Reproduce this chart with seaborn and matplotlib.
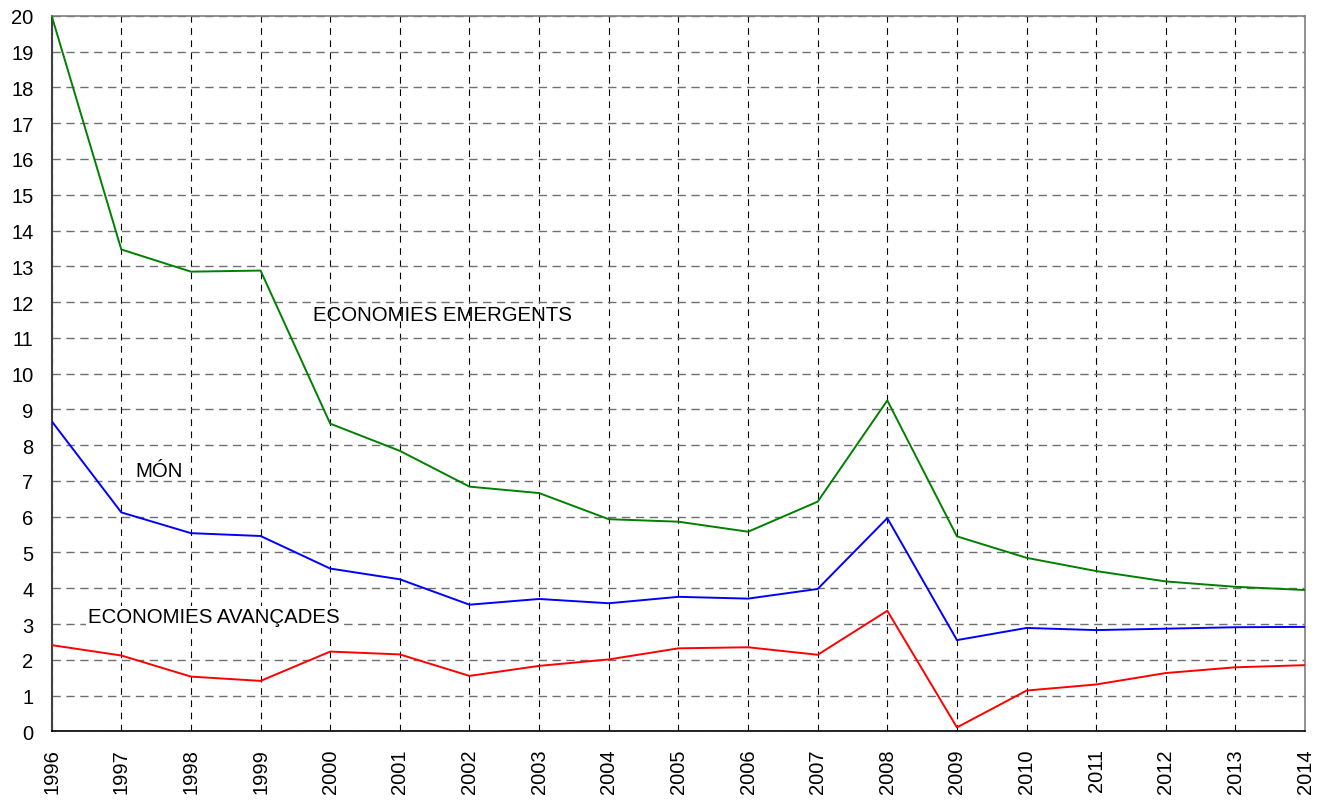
"""
Inflation rates 1996-2014: world, emerging and advanced economies.
"""

import pandas as pd
import matplotlib
matplotlib.use("Agg")
import matplotlib.pyplot as plt
import seaborn as sns

# Data
years = list(range(1996, 2015))
emergents = [20.0, 13.47, 12.85, 12.88, 8.6, 7.84, 6.84, 6.66, 5.93, 5.86, 5.58,
             6.42, 9.25, 5.45, 4.85, 4.48, 4.19, 4.04, 3.95]
mon = [8.67, 6.12, 5.54, 5.46, 4.55, 4.25, 3.54, 3.70, 3.58, 3.76, 3.71,
       3.98, 5.96, 2.55, 2.89, 2.83, 2.87, 2.91, 2.92]
avancades = [2.41, 2.12, 1.53, 1.41, 2.23, 2.15, 1.55, 1.83, 2.01, 2.32, 2.35,
             2.14, 3.37, 0.11, 1.14, 1.31, 1.63, 1.79, 1.85]

series_names = ["ECONOMIES EMERGENTS", "MÓN", "ECONOMIES AVANÇADES"]
series_colors = ["#008000", "#0000FF", "#FF0000"]

df = pd.DataFrame({
    "year": years * 3,
    "value": emergents + mon + avancades,
    "series": [series_names[0]] * len(years) + [series_names[1]] * len(years)
              + [series_names[2]] * len(years),
})

sns.set_style("white")
plt.rcParams["font.family"] = ["Liberation Sans", "DejaVu Sans"]
plt.rcParams["text.color"] = "black"

fig = plt.figure(figsize=(13.25, 8.03), dpi=100)
ax = fig.add_axes([0.039, 0.088, 0.946, 0.891])

sns.lineplot(data=df, x="year", y="value", hue="series",
             palette=dict(zip(series_names, series_colors)),
             linewidth=1.4, legend=False, ax=ax, zorder=3)

ax.set_xlim(1996, 2014)
ax.set_ylim(0, 20)
ax.set_xticks(years)
ax.set_xticklabels([str(y) for y in years], rotation=90)
ax.set_yticks(range(0, 21))
ax.set_xlabel("")
ax.set_ylabel("")

# dashed grid: gray horizontals, black verticals
ax.grid(False)
ax.yaxis.grid(True, linestyle=(0, (6, 4)), color="#707070", linewidth=1.0)
ax.xaxis.grid(True, linestyle=(0, (6, 5)), color="#000000", linewidth=0.8)
ax.set_axisbelow(True)

for side in ["top", "right"]:
    ax.spines[side].set_color("#808080")
    ax.spines[side].set_linewidth(1.2)
ax.spines["bottom"].set_color("#000000")
ax.spines["bottom"].set_linewidth(1.2)
ax.spines["left"].set_color("#404040")
ax.spines["left"].set_linewidth(1.5)

ax.tick_params(axis="both", labelsize=14.5, labelcolor="black", color="#505050",
               length=5, width=0.8, direction="out")
ax.tick_params(axis="x", pad=7)
ax.tick_params(axis="y", pad=8)

# series labels
ax.text(1999.75, 11.66, "ECONOMIES EMERGENTS", fontsize=14.7, va="center", ha="left")
ax.text(1997.2, 7.28, "MÓN", fontsize=14.7, va="center", ha="left")
ax.text(1996.52, 3.2, "ECONOMIES AVANÇADES", fontsize=14.7, va="center", ha="left",
        bbox=dict(facecolor="white", edgecolor="none", pad=1))

fig.savefig("out.png", dpi=100)
plt.close(fig)
